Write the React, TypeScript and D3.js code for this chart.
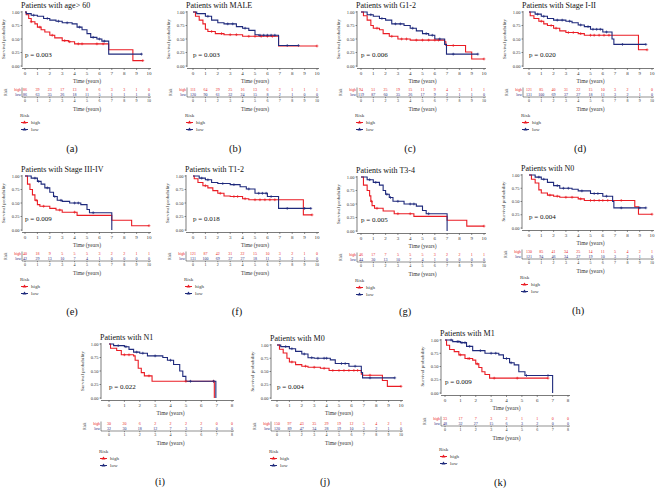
import React from 'react';
import * as d3 from 'd3';

type Pt = [number, number];

const RED = '#ea1c24';
const BLUE = '#1f2a7c';
const INK = '#111111';
const FONT = '"Liberation Serif", "DejaVu Serif", serif';

// ---------- data ----------
const titles = [
  'Patients with age> 60', 'Patients with MALE', 'Patients with G1-2', 'Patients with Stage I-II',
  'Patients with Stage III-IV', 'Patients with T1-2', 'Patients with T3-4', 'Patients with N0',
  'Patients with N1', 'Patients with M0', 'Patients with M1',
];
const pValues = ['0.003', '0.003', '0.006', '0.020', '0.009', '0.018', '0.005', '0.004', '0.022', '0.004', '0.009'];
const letters = ['a', 'b', 'c', 'd', 'e', 'f', 'g', 'h', 'i', 'j', 'k'];
const xMaxes = [10, 10, 10, 10, 10, 10, 10, 10, 8, 10, 8];
const yTicks = [0, 0.25, 0.5, 0.75, 1];

const highA: Pt[] = [[0,1],[0.1,0.95],[0.3,0.88],[0.5,0.82],[0.8,0.78],[1.0,0.72],[1.3,0.67],[1.6,0.63],[2.0,0.57],[2.4,0.52],[3.0,0.47],[3.5,0.45],[4.0,0.41],[6.75,0.30],[8.7,0.10],[9.5,0.10]];
const lowA: Pt[] = [[0,1],[0.1,0.97],[0.5,0.94],[1,0.92],[1.5,0.88],[2,0.85],[2.5,0.83],[3,0.80],[3.8,0.78],[4.2,0.72],[4.6,0.67],[5,0.60],[5.3,0.53],[5.8,0.50],[6.2,0.46],[6.75,0.22],[9.4,0.22]];
const cHighA = [0.5,1.2,2.2,3.2,3.6,4.3,4.6,5.8,6.3,9.5];
const cLowA = [0.7,1.8,2.7,3.4,4.4,5.5,6.0,6.4,9.4];

const highB: Pt[] = [[0,1],[0.2,0.92],[0.5,0.85],[0.8,0.78],[1.0,0.68],[1.2,0.64],[1.8,0.60],[2.5,0.58],[4.0,0.55],[6.9,0.37],[10,0.37]];
const lowB: Pt[] = [[0,1],[0.3,0.97],[1,0.92],[1.5,0.85],[2,0.80],[2.5,0.78],[3.5,0.73],[4,0.70],[4.5,0.66],[5,0.58],[5.3,0.57],[6.9,0.38],[8.5,0.38]];
const cHighB = [1.5,2.3,3.0,3.5,4.5,5.0,5.5,6.0,6.4,10];
const cLowB = [1.2,2.8,3.2,4.2,5.4,5.7,6.0,6.3,6.6,7.6,8.5];

const highC: Pt[] = [[0,1],[0.2,0.93],[0.5,0.85],[0.8,0.75],[1,0.70],[1.5,0.67],[1.8,0.60],[2.3,0.55],[3,0.50],[4,0.48],[6.8,0.45],[6.9,0.38],[8.5,0.26],[9,0.13],[10,0.13]];
const lowC: Pt[] = [[0,1],[0.5,0.95],[1,0.92],[1.5,0.88],[2,0.85],[2.5,0.78],[3.5,0.75],[4,0.70],[4.5,0.65],[5,0.60],[5.5,0.57],[6,0.50],[6.8,0.40],[6.95,0.22],[9.5,0.22]];
const cHighC = [1.3,2.5,3.3,3.7,4.5,5.0,5.5,6.0,6.3,7.5,10];
const cLowC = [0.8,1.7,2.8,3.2,4.2,5.3,5.8,6.4,7.5,9.5];

const highD: Pt[] = [[0,1],[0.1,0.93],[0.4,0.88],[0.8,0.83],[1.2,0.78],[1.5,0.75],[2,0.70],[2.5,0.65],[3,0.62],[4,0.60],[4.5,0.57],[8.9,0.30],[9.6,0.30]];
const lowD: Pt[] = [[0,1],[0.5,0.96],[1,0.92],[1.5,0.88],[2,0.85],[3,0.83],[3.5,0.80],[4,0.76],[4.5,0.73],[5,0.68],[6,0.63],[6.75,0.50],[6.9,0.40],[9.5,0.40]];
const cHighD = [1.0,1.8,2.2,3.2,3.6,4.2,5.0,5.3,5.7,6.1,6.5,9.6];
const cLowD = [0.7,1.2,2.3,2.7,3.3,4.2,4.8,5.2,5.5,5.8,6.3,7.6,9.5];

const highE: Pt[] = [[0,1],[0.2,0.85],[0.4,0.75],[0.6,0.65],[0.8,0.55],[1.0,0.47],[1.2,0.44],[2,0.40],[2.5,0.37],[3,0.33],[4.2,0.27],[7,0.18],[8.6,0.08],[10,0.08]];
const lowE: Pt[] = [[0,1],[0.5,0.96],[1,0.90],[1.3,0.85],[1.6,0.78],[2,0.70],[2.3,0.62],[2.6,0.55],[3,0.53],[3.6,0.50],[4.5,0.47],[5,0.38],[5.2,0.32],[7,0]];
const cHighE = [0.9,1.5,2.8,4.0,10];
const cLowE = [0.8,1.1,1.8,2.4,2.9,4.0,4.3,5.5];

const highF: Pt[] = [[0,1],[0.1,0.95],[0.4,0.88],[0.8,0.82],[1.2,0.78],[1.6,0.73],[2,0.68],[2.5,0.63],[3,0.62],[4,0.58],[4.5,0.56],[8.9,0.28],[9.6,0.28]];
const lowF: Pt[] = [[0,1],[0.5,0.96],[1,0.93],[1.5,0.88],[2,0.86],[3,0.84],[3.8,0.80],[4.3,0.76],[5,0.68],[6,0.62],[6.9,0.40],[9.5,0.40]];
const cHighF = [1.0,2.2,3.3,3.6,4.2,5.0,5.4,5.8,6.2,6.6,9.6];
const cLowF = [0.7,1.2,2.4,3.3,4.5,5.3,5.6,5.9,6.3,7.6,9.0,9.5];

const highG: Pt[] = [[0,1],[0.2,0.85],[0.5,0.75],[0.7,0.65],[0.8,0.55],[0.9,0.47],[1.1,0.42],[1.8,0.37],[2.7,0.32],[4.3,0.27],[7,0.20],[8.6,0.09],[10,0.09]];
const lowG: Pt[] = [[0,1],[0.5,0.95],[1,0.90],[1.5,0.85],[1.8,0.75],[2,0.68],[2.3,0.62],[2.6,0.55],[3.5,0.50],[4.5,0.46],[5,0.38],[5.3,0.32],[7,0]];
const cHighG = [0.85,1.3,3.0,4.0,10];
const cLowG = [0.7,1.2,2.1,2.4,3.0,4.0,4.3,5.5];

const highH: Pt[] = [[0,1],[0.2,0.92],[0.5,0.85],[0.8,0.72],[1,0.66],[1.5,0.62],[2,0.60],[2.5,0.58],[4,0.55],[4.5,0.52],[8.6,0.40],[8.9,0.26],[10,0.26]];
const lowH: Pt[] = [[0,1],[0.5,0.96],[1,0.92],[1.5,0.86],[2,0.80],[2.5,0.75],[3.5,0.73],[4,0.70],[5,0.65],[6,0.60],[6.8,0.50],[6.9,0.38],[9.5,0.38]];
const cHighH = [1.7,2.3,3.0,3.5,4.2,5.0,5.3,5.7,6.0,6.4,7.5,10];
const cLowH = [0.8,1.2,2.3,2.8,3.2,4.3,5.3,5.6,6.3,7.5,9.0,9.5];

const highI: Pt[] = [[0,1],[0.1,0.92],[0.5,0.88],[0.8,0.80],[1.6,0.78],[1.7,0.70],[1.9,0.55],[2.1,0.47],[2.3,0.41],[2.8,0.31],[6.85,0]];
const lowI: Pt[] = [[0,1],[0.3,0.97],[1,0.95],[1.3,0.90],[1.6,0.85],[2,0.83],[2.5,0.78],[3.5,0.75],[3.8,0.70],[4.2,0.62],[4.6,0.50],[4.8,0.40],[5,0.31],[6.95,0]];
const cHighI = [1.0,1.3,2.6,5.0,6.8];
const cLowI = [0.6,1.1,1.8,2.2,3.0,4.0,5.3,6.8];

const highJ: Pt[] = [[0,1],[0.2,0.92],[0.5,0.85],[0.8,0.75],[1,0.68],[1.5,0.63],[2,0.60],[2.5,0.58],[3.5,0.56],[4.2,0.52],[6.8,0.45],[6.9,0.43],[8.5,0.33],[8.9,0.22],[10,0.22]];
const lowJ: Pt[] = [[0,1],[0.3,0.97],[1,0.93],[1.5,0.88],[2,0.83],[2.5,0.76],[3,0.75],[4.3,0.72],[4.7,0.65],[5.8,0.60],[6.8,0.48],[6.9,0.38],[9.5,0.38]];
const cHighJ = [1.2,2.3,3.0,3.8,4.5,5.0,5.4,5.8,6.2,6.5,7.5,10];
const cLowJ = [0.7,1.2,2.2,2.8,3.3,3.8,4.0,5.2,5.5,6.3,7.5,9.5];

const highK: Pt[] = [[0,1],[0.1,0.90],[0.3,0.82],[0.6,0.78],[0.9,0.72],[1.3,0.65],[1.8,0.62],[2,0.55],[2.2,0.48],[2.4,0.40],[2.6,0.35],[2.9,0.28],[6.7,0.28]];
const lowK: Pt[] = [[0,1],[0.5,0.97],[1,0.95],[1.4,0.88],[1.8,0.80],[2.6,0.75],[3.5,0.72],[3.8,0.65],[4.2,0.57],[4.5,0.53],[4.8,0.40],[5.2,0.33],[7.0,0]];
const cHighK = [1.0,1.5,1.6,2.1,3.2,4.7,6.7];
const cLowK = [0.4,0.8,0.9,1.1,1.3,1.6,2.3,3.0,3.3,4.0,4.3,5.3,6.7];

const riskHigh = [
  [86,39,23,17,13,8,6,3,3,1,0],
  [111,64,29,25,16,13,6,2,1,1,1],
  [94,51,25,19,15,11,9,4,3,1,1],
  [121,85,40,31,22,15,10,3,2,1,0],
  [40,18,9,5,5,5,3,2,2,1,1],
  [121,87,42,31,22,15,10,3,2,1,0],
  [46,17,7,5,5,5,3,2,2,1,1],
  [130,85,41,34,25,14,11,5,4,2,1],
  [30,20,6,2,2,2,2,0,0],
  [150,97,43,35,29,19,12,5,4,2,1],
  [33,17,7,3,2,1,1,0,0],
];
const riskLow = [
  [86,63,35,26,18,11,5,1,1,1,0],
  [120,90,61,32,24,15,8,2,1,0,0],
  [119,87,60,35,26,17,9,2,1,1,0],
  [131,100,69,37,27,18,11,3,2,1,0],
  [42,29,13,10,7,4,1,0,0,0,0],
  [131,100,69,37,27,18,11,3,2,1,0],
  [44,30,13,10,7,4,1,0,0,0,0],
  [121,94,46,34,27,19,10,3,2,1,0],
  [32,30,18,12,7,3,2,0,0],
  [120,89,47,34,28,19,10,3,2,1,0],
  [48,32,27,15,6,3,2,0,0],
];

const highCurves = [highA, highB, highC, highD, highE, highF, highG, highH, highI, highJ, highK];
const lowCurves = [lowA, lowB, lowC, lowD, lowE, lowF, lowG, lowH, lowI, lowJ, lowK];
const highCens = [cHighA, cHighB, cHighC, cHighD, cHighE, cHighF, cHighG, cHighH, cHighI, cHighJ, cHighK];
const lowCens = [cLowA, cLowB, cLowC, cLowD, cLowE, cLowF, cLowG, cLowH, cLowI, cLowJ, cLowK];

// ---------- layout ----------
// axisX, x0, x1, y1, y0, labelX, labelY, tableDy, legendDy
const layout = [
  [22, 25, 149, 12, 66, 72, 148, 0, 0],
  [187, 193, 317, 12, 66, 235, 148, 0, 0],
  [357, 361, 484, 12, 66, 410, 148, 0, 0],
  [523, 529, 652, 12, 66, 580, 148, 0, 0],
  [22, 25, 149, 176, 230, 72, 311, 0, 0],
  [186, 193, 317, 176, 230, 237, 311, 0, 0],
  [357, 361, 484, 177, 231, 405, 311, 0, 0],
  [522, 529, 652, 175, 228, 578, 310, 0, 0],
  [101, 109, 232, 344, 398, 160, 481, 2, 2],
  [271, 277, 401, 345, 398, 325, 481, 2, 2],
  [441, 445, 568, 340, 393, 500, 482, 2, 5],
];

function stepAt(curve: Pt[], t: number) {
  let s = 1;
  for (const [ti, si] of curve) if (ti <= t) s = si;
  return s;
}

function Panel({ i }: { i: number }) {
  const [ax, x0, x1, y1, y0, lx, ly, tdy, ldy] = layout[i];
  const xMax = xMaxes[i];
  const x = d3.scaleLinear().domain([0, xMax]).range([x0, x1]);
  const y = d3.scaleLinear().domain([0, 1]).range([y0, y1]);
  const line = d3.line<Pt>().x(d => x(d[0])).y(d => y(d[1])).curve(d3.curveStepAfter);
  const xt = d3.range(0, xMax + 1);
  const axY = y0 + 2.5;
  const midX = (x0 + x1) / 2;
  const cens = (curve: Pt[], times: number[], color: string) =>
    times.map((t, k) => {
      const cx = x(t), cy = y(stepAt(curve, t));
      return (
        <g key={k} stroke={color} strokeWidth={0.7}>
          <line x1={cx - 1.4} x2={cx + 1.4} y1={cy} y2={cy} />
          <line x1={cx} x2={cx} y1={cy - 1.4} y2={cy + 1.4} />
        </g>
      );
    });
  const tHigh = y0 + 24 + tdy;
  const tLow = y0 + 28.5 + tdy;
  const tAx = y0 + 31 + tdy;
  const lgY = y0 + 49 + tdy + ldy;
  return (
    <g fontFamily={FONT}>
      <text x={ax - 1} y={y1 - 4} fontSize={8} fill={INK}>{titles[i]}</text>
      {/* axes */}
      <line x1={ax} x2={ax} y1={y1 - 1} y2={y0 + 1} stroke="#222" strokeWidth={0.6} />
      <line x1={ax} x2={x1 + 2} y1={axY} y2={axY} stroke="#222" strokeWidth={0.6} />
      {yTicks.map(v => (
        <g key={v}>
          <line x1={ax - 1.5} x2={ax} y1={y(v)} y2={y(v)} stroke="#222" strokeWidth={0.5} />
          <text x={ax - 2.5} y={y(v)} dy="0.35em" fontSize={4.5} textAnchor="end" fill="#333">{v.toFixed(2)}</text>
        </g>
      ))}
      <text transform={`translate(${ax - 17},${(y0 + y1) / 2}) rotate(-90)`} fontSize={5} textAnchor="middle" fill="#333">Survival probability</text>
      {xt.map(v => (
        <g key={v}>
          <line x1={x(v)} x2={x(v)} y1={axY} y2={axY + 1.5} stroke="#222" strokeWidth={0.5} />
          <text x={x(v)} y={axY + 5} dy="0.35em" fontSize={5} textAnchor="middle" fill="#333">{v}</text>
        </g>
      ))}
      <text x={midX} y={y0 + 15} dy="0.35em" fontSize={5.5} textAnchor="middle" fill="#333">Time (years)</text>
      {/* curves */}
      <path d={line(highCurves[i]) || ''} fill="none" stroke={RED} strokeWidth={1.1} />
      <path d={line(lowCurves[i]) || ''} fill="none" stroke={BLUE} strokeWidth={1.1} />
      {cens(highCurves[i], highCens[i], RED)}
      {cens(lowCurves[i], lowCens[i], BLUE)}
      <text x={x0} y={y(0.22)} dy="0.35em" fontSize={7} fill={INK}>p = {pValues[i]}</text>
      {/* risk table */}
      <text transform={`translate(${ax - 15},${(tHigh + tLow) / 2}) rotate(-90)`} fontSize={4} textAnchor="middle" fill="#333">Risk</text>
      <text x={ax - 1} y={tHigh} dy="0.35em" fontSize={3.8} textAnchor="end" fill={RED}>high</text>
      <text x={ax - 1} y={tLow} dy="0.35em" fontSize={3.8} textAnchor="end" fill={BLUE}>low</text>
      <line x1={ax} x2={ax} y1={tHigh - 2.5} y2={tAx} stroke="#222" strokeWidth={0.5} />
      <line x1={ax} x2={x1 + 2} y1={tAx} y2={tAx} stroke="#222" strokeWidth={0.5} />
      {riskHigh[i].map((n, k) => (
        <text key={'h' + k} x={x(k)} y={tHigh} dy="0.35em" fontSize={4} textAnchor="middle" fill={RED}>{n}</text>
      ))}
      {riskLow[i].map((n, k) => (
        <text key={'l' + k} x={x(k)} y={tLow} dy="0.35em" fontSize={4} textAnchor="middle" fill={BLUE}>{n}</text>
      ))}
      {xt.map(v => (
        <g key={'t' + v}>
          <line x1={x(v)} x2={x(v)} y1={tAx} y2={tAx + 1.2} stroke="#222" strokeWidth={0.5} />
          <text x={x(v)} y={tAx + 3.8} dy="0.35em" fontSize={4} textAnchor="middle" fill="#333">{v}</text>
        </g>
      ))}
      <text x={midX} y={tAx + 12} dy="0.35em" fontSize={5.5} textAnchor="middle" fill="#333">Time (years)</text>
      {/* legend */}
      <text x={ax - 2} y={lgY} dy="0.35em" fontSize={5} fill="#333">Risk</text>
      {[['high', RED], ['low', BLUE]].map(([lab, col], k) => {
        const yy = lgY + 7.5 + k * 7;
        return (
          <g key={lab}>
            <line x1={ax - 1} x2={ax + 6} y1={yy} y2={yy} stroke={col} strokeWidth={1} />
            <path d={`M${ax + 2.5},${yy - 2} L${ax + 4.5},${yy + 1} L${ax + 0.5},${yy + 1} Z`} fill={col} />
            <text x={ax + 9} y={yy} dy="0.35em" fontSize={5} fill="#333">{lab}</text>
          </g>
        );
      })}
      <text x={lx} y={ly} dy="0.35em" fontSize={10.5} textAnchor="middle" fill={INK}>({letters[i]})</text>
    </g>
  );
}

export default function App() {
  return (
    <svg width={658} height={488} style={{ position: 'absolute', left: 0, top: 0, background: '#fff' }}>
      <rect width={658} height={488} fill="#fff" />
      {titles.map((_, i) => <Panel key={i} i={i} />)}
    </svg>
  );
}
